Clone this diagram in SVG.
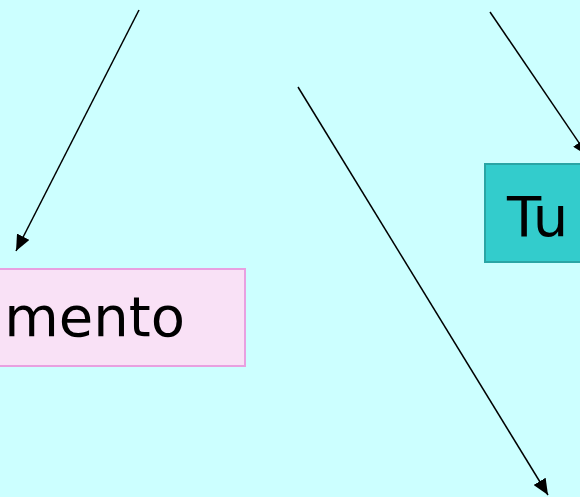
<svg xmlns="http://www.w3.org/2000/svg" width="580" height="497" viewBox="0 0 580 497">
  <style>
    .edge { stroke: #000; stroke-width: 1.5; fill: none; marker-end: url(#head); }
    .label { font-family: "Comic Sans MS", "DejaVu Sans", sans-serif; font-size: 56px; fill: #000; }
  </style>
  <defs>
    <marker id="head" viewBox="0 0 16 14" refX="16" refY="7" markerWidth="16" markerHeight="14" markerUnits="userSpaceOnUse" orient="auto">
      <path d="M0,0 L16,7 L0,14 Z" fill="#000"/>
    </marker>
  </defs>
  <rect width="580" height="497" fill="#CCFFFF"/>

  <g id="node-mento">
    <rect x="-10" y="269" width="255" height="97" fill="#F9E1F6" stroke="#E8A0E0" stroke-width="2"/>
    <text class="label" x="185" y="336" text-anchor="end">imento</text>
  </g>

  <g id="node-tu">
    <rect x="485" y="164" width="110" height="98" fill="#33CCCC" stroke="#2AA5A5" stroke-width="2"/>
    <text class="label" x="507" y="236">Tu</text>
  </g>

  <g id="connectors">
    <line class="edge" x1="139" y1="10" x2="16" y2="251"/>
    <line class="edge" x1="490" y1="12" x2="588" y2="156"/>
    <line class="edge" x1="298" y1="87" x2="548" y2="495"/>
  </g>
</svg>
